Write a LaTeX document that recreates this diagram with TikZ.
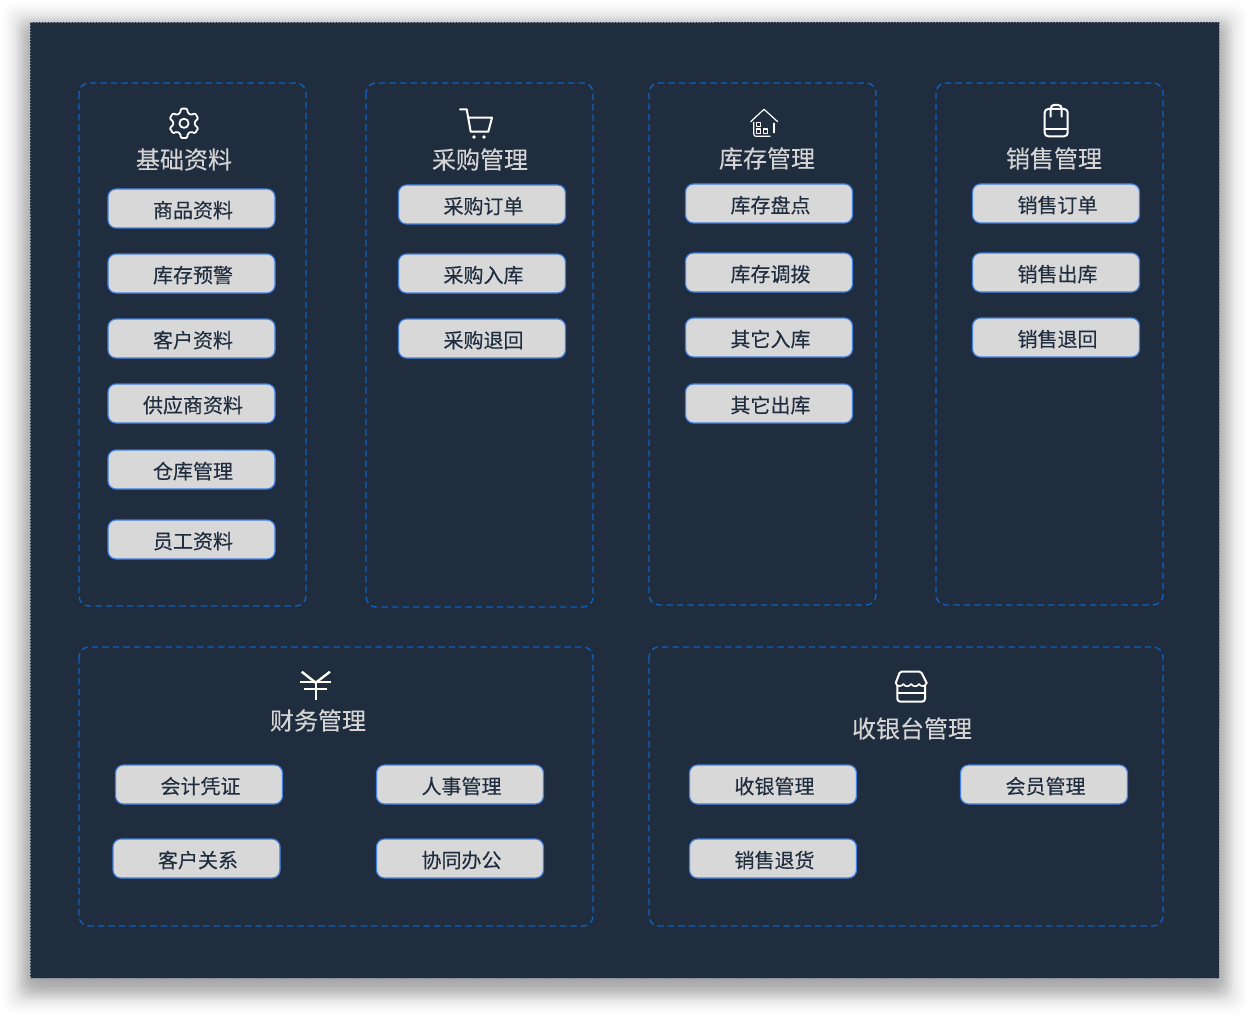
\documentclass[tikz,border=0pt]{standalone}
\usepackage{fontspec}
\setmainfont{Noto Sans CJK SC}[FakeBold=0.25]
\definecolor{bgdark}{HTML}{1F2D3F}
\definecolor{dashblue}{HTML}{0F60BC}
\definecolor{btnfill}{HTML}{D8D8D8}
\definecolor{btnline}{HTML}{3F80E4}
\definecolor{titlegrey}{HTML}{D4D4D4}
\definecolor{iconwhite}{HTML}{FFFFFF}
\definecolor{yencream}{HTML}{FFFFF2}
\definecolor{edgegrey}{HTML}{7F8A96}
\tikzset{
  panelbox/.style={draw=dashblue,line width=1.4pt,dash pattern=on 6.5pt off 4pt,rounded corners=10pt},
  btn/.style={draw=btnline,line width=1.2pt,fill=btnfill,rounded corners=8pt},
  btntext/.style={text=bgdark,font=\fontsize{20}{20}\selectfont,inner sep=0pt,anchor=center},
  paneltitle/.style={text=titlegrey,font=\fontsize{24}{24}\selectfont,inner sep=0pt,anchor=center},
  icon/.style={draw=iconwhite,line width=2pt,line join=round,line cap=round},
  thinicon/.style={draw=iconwhite,line width=1.2pt,line join=round,line cap=round},
}
\newcommand{\btnat}[6]{%
  \path[btn] (#2,#3) rectangle (#4,#5);
  \node[btntext] (#1) at ({(#2+#4)/2+1.5},{(#3+#5)/2+1.6}) {#6};}
\begin{document}
\begin{tikzpicture}[x=1pt,y=-1pt]
\useasboundingbox (0,0) rectangle (1249,1016);
\fill[white] (0,0) rectangle (1249,1016);
% soft shadow
\foreach \r in {27,24,21,19,17,15,14,13,12,11,10,9,8,7,6,5,4,3,2,1,0,-2,-4,-6,-8}{
  \fill[black,opacity=0.017,rounded corners=12pt]
    ({30-\r},{22+8-\r}) rectangle ({1219+\r},{978+8+\r});
}
\fill[bgdark] (30,22) rectangle (1219,978);
\draw[edgegrey,line width=0.8pt,dash pattern=on 1.5pt off 1.5pt] (30,22) rectangle (1219,978);
% panels
\path[panelbox] (79,83) rectangle (306,606);
\path[panelbox] (366,83) rectangle (593,607);
\path[panelbox] (649,83) rectangle (876,605);
\path[panelbox] (936,83) rectangle (1163,605);
\path[panelbox] (79,647) rectangle (593,926);
\path[panelbox] (649,647) rectangle (1163,926);
% titles
\node[paneltitle] (t1) at (184,159.5) {基础资料};
\node[paneltitle] (t2) at (480,159.5) {采购管理};
\node[paneltitle] (t3) at (767,158.5) {库存管理};
\node[paneltitle] (t4) at (1054,158.5) {销售管理};
\node[paneltitle] (t5) at (318,720.5) {财务管理};
\node[paneltitle] (t6) at (912,728.5) {收银台管理};
% panel 1
\btnat{a1}{108}{189}{275}{228}{商品资料}
\btnat{a2}{108}{254}{275}{293}{库存预警}
\btnat{a3}{108}{319}{275}{358}{客户资料}
\btnat{a4}{108}{384}{275}{423}{供应商资料}
\btnat{a5}{108}{450}{275}{489}{仓库管理}
\btnat{a6}{108}{520}{275}{559}{员工资料}
% panel 2
\btnat{b1}{398.5}{185}{565.5}{224}{采购订单}
\btnat{b2}{398.5}{254}{565.5}{293}{采购入库}
\btnat{b3}{398.5}{319}{565.5}{358}{采购退回}
% panel 3
\btnat{c1}{685.5}{184}{852.5}{223}{库存盘点}
\btnat{c2}{685.5}{253}{852.5}{292}{库存调拨}
\btnat{c3}{685.5}{318}{852.5}{357}{其它入库}
\btnat{c4}{685.5}{384}{852.5}{423}{其它出库}
% panel 4
\btnat{d1}{972.5}{184}{1139.5}{223}{销售订单}
\btnat{d2}{972.5}{253}{1139.5}{292}{销售出库}
\btnat{d3}{972.5}{318}{1139.5}{357}{销售退回}
% panel 5
\btnat{e1}{115.5}{765}{282.5}{804}{会计凭证}
\btnat{e2}{376.5}{765}{543.5}{804}{人事管理}
\btnat{e3}{113}{839}{280}{878}{客户关系}
\btnat{e4}{376.5}{839}{543.5}{878}{协同办公}
% panel 6
\btnat{f1}{689.5}{765}{856.5}{804}{收银管理}
\btnat{f2}{960.5}{765}{1127.5}{804}{会员管理}
\btnat{f3}{689.5}{839}{856.5}{878}{销售退货}
% gear
\begin{scope}[shift={(184,123.3)},y=1pt]
  \draw[icon,line width=1.8pt,rounded corners=1.1pt]
    (90-12:15) -- (90+12:15) -- (90+20:11) -- (90+40:11)
    -- (150-12:15) -- (150+12:15) -- (150+20:11) -- (150+40:11)
    -- (210-12:15) -- (210+12:15) -- (210+20:11) -- (210+40:11)
    -- (270-12:15) -- (270+12:15) -- (270+20:11) -- (270+40:11)
    -- (330-12:15) -- (330+12:15) -- (330+20:11) -- (330+40:11)
    -- (30-12:15) -- (30+12:15) -- (30+20:11) -- (30+40:11) -- cycle;
  \draw[icon,line width=1.8pt] (0,0) circle (4.6);
\end{scope}
% cart
\draw[icon] (460,109.3) -- (466.7,109.3) -- (470.7,131.7) -- (488.3,131.7) -- (492,117.7) -- (468.3,117.7);
\fill[iconwhite] (474,137) circle (1.9) (484,137) circle (1.9);
% house
\draw[thinicon] (750.7,121.7) -- (764,109.3) -- (777.7,121.7);
\draw[thinicon] (753.7,122.3) -- (753.7,133.3) .. controls (753.7,135.5) and (754.5,136.3) .. (756,136.3) -- (770,136.3);
\draw[thinicon] (774,123.3) -- (774,132.7);
\draw[thinicon] (756.7,122.3) rectangle (760.7,126.3);
\draw[thinicon] (756.7,129) rectangle (760.7,133.3);
\draw[thinicon] (763.3,129) rectangle (767.7,133.3);
% bag
\draw[icon,rounded corners=3.5pt] (1044.7,109) rectangle (1067.7,136.3);
\draw[icon] (1044.7,129) -- (1067.7,129);
\draw[icon] (1050.7,116.7) -- (1050.7,108.5) .. controls (1050.7,106) and (1052.5,105) .. (1054,105) -- (1058,105) .. controls (1060,105) and (1061.7,106) .. (1061.7,108.5) -- (1061.7,116.7);
% yen
\draw[icon,draw=yencream,line width=2.4pt,line cap=butt] (301.7,671.7) -- (315.7,682.7) -- (330,671.7);
\draw[icon,draw=yencream,line width=2.4pt,line cap=butt] (315.7,682) -- (315.7,700);
\draw[icon,draw=yencream,line width=2.4pt,line cap=butt] (300,681.7) -- (331,681.7);
\draw[icon,draw=yencream,line width=2.4pt,line cap=butt] (304.3,688.7) -- (326.7,688.7);
% store
\draw[icon,rounded corners=1.5pt] (895.7,683) -- (900,671.7) -- (921,671.7) -- (926.7,683);
\draw[icon,line width=1.6pt] (895.7,683) .. controls (897,687) and (901,687) .. (903.4,684)
  .. controls (905,687) and (909,687) .. (911.2,684)
  .. controls (913,687) and (917,687) .. (919,684)
  .. controls (921,687) and (925,687) .. (926.7,683);
\draw[icon,rounded corners=3pt] (897.3,685) -- (897.3,701.7) -- (925,701.7) -- (925,685);
\draw[icon] (897.3,693.3) -- (925,693.3);
\end{tikzpicture}
\end{document}
